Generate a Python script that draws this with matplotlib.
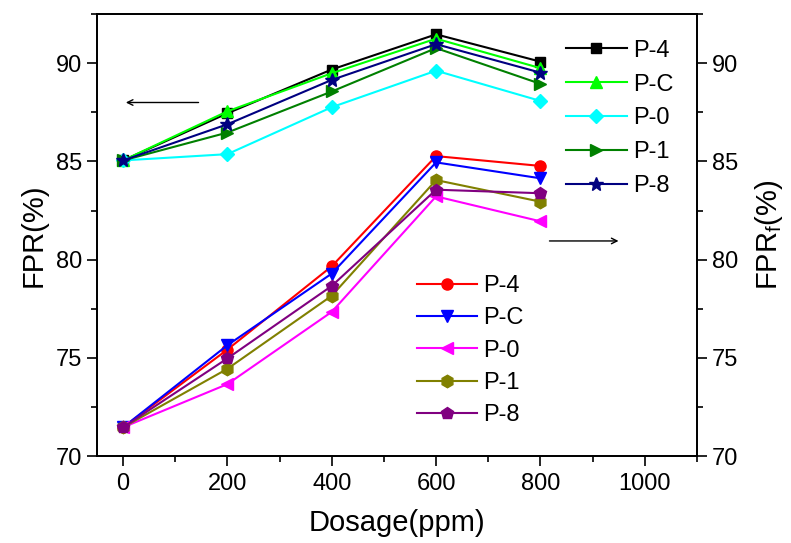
import matplotlib
matplotlib.use("Agg")
import matplotlib.pyplot as plt
from matplotlib.ticker import MultipleLocator

plt.rcParams['font.family'] = ['Liberation Sans', 'DejaVu Sans']

dosage = [0, 200, 400, 600, 800]
labels = ["P-4", "P-C", "P-0", "P-1", "P-8"]

# FPR (left axis)
fpr_p4 = [85.05, 87.45, 89.68, 91.47, 90.08]
fpr_pc = [85.05, 87.55, 89.49, 91.25, 89.75]
fpr_p0 = [85.05, 85.37, 87.76, 89.62, 88.08]
fpr_p1 = [85.05, 86.47, 88.56, 90.77, 88.95]
fpr_p8 = [85.05, 86.89, 89.15, 90.97, 89.52]

# FPR_f (right axis)
fprf_p4 = [71.46, 75.42, 79.66, 85.27, 84.77]
fprf_pc = [71.46, 75.64, 79.29, 84.95, 84.14]
fprf_p0 = [71.46, 73.66, 77.34, 83.22, 81.95]
fprf_p1 = [71.46, 74.44, 78.16, 84.05, 82.95]
fprf_p8 = [71.46, 74.97, 78.66, 83.56, 83.38]

fig = plt.figure(figsize=(7.91, 5.43), dpi=100)
ax = fig.add_axes([0.1226, 0.1602, 0.7585, 0.8138])
ax2 = ax.twinx()

upper = [fpr_p4, fpr_pc, fpr_p0, fpr_p1, fpr_p8]
upper_style = [("black", "s"), ("#00ff00", "^"), ("#00ffff", "D"), ("#008000", ">"), ("#000080", "*")]
upper_ms = [7, 9, 7, 9, 10]
for ys, (c, m), ms, lab in zip(upper, upper_style, upper_ms, labels):
    ax.plot(dosage, ys, color=c, marker=m, markersize=ms, lw=1.5, label=lab)

lower = [fprf_p4, fprf_pc, fprf_p0, fprf_p1, fprf_p8]
lower_style = [("#ff0000", "o"), ("#0000ff", "v"), ("#ff00ff", "<"), ("#808000", "h"), ("#800080", "p")]
lower_ms = [8, 9, 9, 9, 9]
for ys, (c, m), ms, lab in zip(lower, lower_style, lower_ms, labels):
    ax2.plot(dosage, ys, color=c, marker=m, markersize=ms, lw=1.5, label=lab)

for a in (ax, ax2):
    a.set_ylim(70, 92.5)
    a.yaxis.set_major_locator(MultipleLocator(5))
    a.yaxis.set_minor_locator(MultipleLocator(2.5))
ax.set_xlim(-50, 1100)
ax.xaxis.set_major_locator(MultipleLocator(200))
ax.xaxis.set_minor_locator(MultipleLocator(100))

ax.tick_params(axis='both', which='major', direction='out', length=7, width=1.2, labelsize=17)
ax.tick_params(axis='both', which='minor', direction='out', length=4, width=1.2)
ax.tick_params(axis='x', top=False, which='both', pad=5)
ax2.tick_params(axis='y', which='major', direction='out', length=7, width=1.2, labelsize=17)
ax2.tick_params(axis='y', which='minor', direction='out', length=4, width=1.2)
for a in (ax, ax2):
    for s in a.spines.values():
        s.set_linewidth(1.3)

ax.set_xlabel("Dosage(ppm)", fontsize=21, labelpad=10)
ax.set_ylabel("FPR(%)", fontsize=21, labelpad=6)
ax2.set_ylabel("FPR$_\\mathregular{f}$(%)", fontsize=21, labelpad=11)

# Arrows indicating axes
ax.annotate("", xy=(0, 88.0), xytext=(150, 88.0),
            arrowprops=dict(arrowstyle="->", color="black", lw=1.0))
ax.annotate("", xy=(955, 80.95), xytext=(812, 80.95),
            arrowprops=dict(arrowstyle="->", color="black", lw=1.0))

leg1 = ax.legend(loc="upper left", bbox_to_anchor=(0.781, 0.942), frameon=False,
                 fontsize=17, handlelength=2.6, handletextpad=0.25, labelspacing=0.5,
                 borderaxespad=0, borderpad=0)
leg2 = ax2.legend(loc="upper left", bbox_to_anchor=(0.533, 0.41), frameon=False,
                  fontsize=17, handlelength=2.55, handletextpad=0.27, labelspacing=0.44,
                  borderaxespad=0, borderpad=0)

fig.savefig("out.png", dpi=100)
